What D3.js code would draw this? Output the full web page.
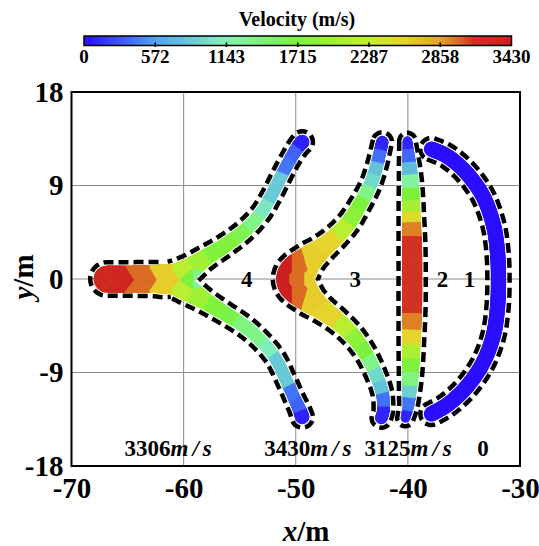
<!DOCTYPE html>
<html>
<head>
<meta charset="utf-8">
<script src="https://cdn.jsdelivr.net/npm/d3@7"></script>
<style>
  html, body { margin: 0; padding: 0; background: #fff; }
  svg { display: block; }
  text { font-family: "Liberation Serif", "Times New Roman", serif; font-weight: bold; fill: #000; }
</style>
</head>
<body>
<svg id="chart" width="539" height="546"></svg>
<script>
// ---- axes and colour bar ----
const xTicks = [-70, -60, -50, -40, -30];
const yTicks = [18, 9, 0, -9, -18];
const xGrid = [-60, -50, -40];
const yGrid = [9, 0, -9];
const velocityTicks = [0, 572, 1143, 1715, 2287, 2858, 3430];
const colorStops  = [0, 572, 1143, 1715, 2287, 2570, 2858, 3000, 3125, 3430];
const colorValues = ["#2a0cff", "#4fa2f5", "#82f5b4", "#7cf23c", "#c4ee2e",
                     "#e8d22c", "#e2a42a", "#dc6c24", "#d23222", "#cc1f1f"];

// ---- fragment 1: outer arc (centre line x, y and half width in metres) ----
const f1X = [-37.90, -36.38, -34.69, -33.26, -32.37, -32.01, -31.92, -32.01, -32.37, -33.26, -34.69, -36.38, -37.90];
const f1Y = [12.51, 11.74, 10.11, 7.89, 5.20, 2.60, -0.10, -2.79, -5.39, -7.99, -10.30, -12.03, -12.99];
const f1W = [0.68, 0.68, 0.68, 0.68, 0.68, 0.68, 0.68, 0.68, 0.68, 0.68, 0.68, 0.68, 0.68];
const f1SX = [-37.90, -31.92, -37.90];
const f1SY = [12.50, 0.00, -13.00];
const f1SV = [0, 0, 0];

// ---- fragment 2: thin lens near x = -40 ----
const f2X = [-40.04, -39.96, -39.87, -39.78, -39.73, -39.69, -39.64, -39.62, -39.62, -39.62, -39.64, -39.69, -39.73, -39.78, -39.87, -39.96, -40.22];
const f2Y = [13.28, 12.22, 10.97, 9.53, 7.89, 5.97, 3.75, 1.64, 0, -1.64, -3.75, -5.97, -7.89, -9.53, -10.97, -12.22, -13.38];
const f2W = [0.42, 0.51, 0.62, 0.71, 0.78, 0.83, 0.88, 0.90, 0.90, 0.90, 0.88, 0.83, 0.78, 0.71, 0.62, 0.51, 0.42];
const f2SX = [-40.04, -39.96, -39.87, -39.78, -39.73, -39.69, -39.69, -39.64, -39.64, -39.62, -39.62, -39.64, -39.69, -39.73, -39.73, -39.78, -39.87, -39.96, -40.22];
const f2SY = [13.09, 11.84, 10.59, 9.43, 8.09, 6.93, 5.97, 4.91, 3.27, 0, -2.50, -4.14, -5.68, -7.03, -8.28, -9.72, -10.88, -12.03, -13.38];
const f2SV = [100, 350, 750, 1250, 1700, 2050, 2500, 2950, 3125, 3125, 3125, 2950, 2550, 2100, 1750, 1400, 900, 400, 100];

// ---- fragment 3: chevron, top end -> nose -> bottom end ----
const f3X = [-42.28, -42.46, -42.81, -43.35, -44.24, -45.31, -46.56, -47.81, -49.06, -50.04, -49.06, -47.81, -46.38, -44.96, -43.79, -42.90, -42.28, -42.19, -42.37];
const f3Y = [13.19, 12.32, 10.78, 9.05, 7.22, 5.39, 3.95, 2.79, 1.64, 0, -1.64, -2.79, -3.95, -5.39, -7.12, -9.05, -10.97, -12.61, -13.38];
const f3W = [0.55, 0.56, 0.58, 0.60, 0.64, 0.72, 0.80, 0.95, 1.28, 1.70, 1.28, 0.95, 0.80, 0.72, 0.64, 0.60, 0.58, 0.56, 0.55];
const f3SX = [-51.29, -50.94, -50.94, -49.78, -49.69, -49.69, -48.62, -48.44, -48.44,
              -46.92, -45.76, -44.87, -44.15, -43.62, -43.17, -42.81, -42.54, -42.28,
              -46.92, -45.76, -44.78, -44.06, -43.44, -42.90, -42.54, -42.28, -42.28];
const f3SY = [0, 1.25, -1.25, 0, 1.25, -1.25, 0, 1.64, -1.64,
              3.56, 4.81, 6.06, 7.31, 8.37, 9.53, 10.68, 11.84, 13.09,
              -3.56, -4.72, -5.87, -7.03, -8.18, -9.34, -10.49, -11.65, -12.99];
const f3SV = [3430, 3430, 3430, 3000, 3000, 3000, 2600, 2600, 2600,
              2550, 2200, 1850, 1700, 1350, 950, 800, 380, 100,
              2550, 2200, 1850, 1700, 1350, 950, 800, 380, 100];

// ---- fragment 4: Y shape, tail with upper branch (a) and lower branch (b) ----
const f4aX = [-66.83, -64.78, -62.81, -61.21, -59.60, -58.08, -56.38, -54.60, -53.17, -52.19, -51.38, -50.58, -49.87, -49.42];
const f4aY = [0, 0, 0, 0, 0.87, 2.02, 3.18, 4.62, 6.26, 7.99, 9.72, 11.36, 12.61, 13.19];
const f4aW = [1.19, 1.19, 1.21, 1.25, 1.00, 0.76, 0.66, 0.61, 0.57, 0.56, 0.56, 0.56, 0.60, 0.64];
const f4bX = [-66.83, -64.78, -62.81, -61.21, -59.60, -58.08, -56.38, -54.60, -53.08, -51.83, -50.94, -50.22, -49.69, -49.42];
const f4bY = [0, 0, 0, 0, -1.06, -2.12, -3.27, -4.52, -5.97, -7.60, -9.53, -11.26, -12.51, -13.28];
const f4bW = [1.19, 1.19, 1.21, 1.25, 1.00, 0.76, 0.66, 0.61, 0.57, 0.56, 0.56, 0.56, 0.60, 0.64];
const f4SX = [-67.46, -66.38, -66.38, -65.31, -64.06, -64.06, -63.35, -61.92, -61.92, -61.21, -60.13, -60.13, -59.42, -58.79,
              -58.53, -57.28, -56.03, -54.78, -53.71, -52.81, -52.10, -51.47, -50.94, -50.22, -49.51,
              -58.53, -57.28, -56.03, -54.78, -53.62, -52.63, -51.83, -51.12, -50.49, -49.87, -49.51];
const f4SY = [0, 1.06, -1.25, 0, 0.87, -1.06, 0, 0.87, -1.06, 0, 0.87, -1.06, 0, 0,
              1.73, 2.50, 3.37, 4.33, 5.49, 6.83, 8.28, 9.53, 10.97, 12.22, 13.19,
              -1.83, -2.60, -3.56, -4.52, -5.58, -6.83, -8.09, -9.72, -11.07, -12.22, -13.28];
const f4SV = [3306, 3306, 3306, 3306, 3000, 3000, 3000, 2600, 2600, 2600, 2200, 2200, 1700, 1300,
              2000, 1750, 1750, 1600, 1350, 1050, 850, 850, 400, 330, 80,
              2000, 1750, 1650, 1400, 1350, 1100, 850, 850, 400, 330, 80];

// fragment numbers and where their tags / speed notes sit (metres)
const fragmentTags = ["4", "3", "2", "1"];
const tagX = [-54.36, -44.69, -36.92, -34.51];
const speedNoteX = [-61.20, -48.75, -39.80, -33.30];
const speedNoteY = -17.0;

const fragments = [
  { tag: "4", limbs: [{ x: f4aX, y: f4aY, w: f4aW }, { x: f4bX, y: f4bY, w: f4bW }], samples: { x: f4SX, y: f4SY, v: f4SV } },
  { tag: "3", limbs: [{ x: f3X, y: f3Y, w: f3W }], samples: { x: f3SX, y: f3SY, v: f3SV } },
  { tag: "2", limbs: [{ x: f2X, y: f2Y, w: f2W }], samples: { x: f2SX, y: f2SY, v: f2SV } },
  { tag: "1", limbs: [{ x: f1X, y: f1Y, w: f1W }], samples: { x: f1SX, y: f1SY, v: f1SV } }
];

// ---- scales ----
const svg = d3.select("#chart");
const x = d3.scaleLinear().domain([-70, -30]).range([71.5, 520]);
const y = d3.scaleLinear().domain([-18, 18]).range([466, 92]);
const color = d3.scaleLinear().domain(colorStops).range(colorValues).interpolate(d3.interpolateRgb).clamp(true);
const widthPx = w => Math.abs(x(w) - x(0));

const GAP = 3.5;         // body edge to outline centre
const OUTLINE_W = 4.5;

// ---- grid ----
const grid = svg.append("g");
grid.selectAll("line.gx").data(xGrid).join("line")
  .attr("x1", d => x(d)).attr("x2", d => x(d)).attr("y1", y(18)).attr("y2", y(-18))
  .attr("stroke", "#8a8a8a").attr("stroke-width", 1);
grid.selectAll("line.gy").data(yGrid).join("line")
  .attr("y1", d => y(d)).attr("y2", d => y(d)).attr("x1", x(-70)).attr("x2", x(-30))
  .attr("stroke", "#8a8a8a").attr("stroke-width", 1);

// ---- geometry helpers ----
function catmull(a, b, c, d, t) {
  const t2 = t * t, t3 = t2 * t;
  return 0.5 * (2 * b + (-a + c) * t + (2 * a - 5 * b + 4 * c - d) * t2 + (-a + 3 * b - 3 * c + d) * t3);
}
function densify(ctrl, steps) {
  const n = ctrl.length, out = [];
  for (let i = 0; i < n - 1; i++) {
    const p0 = ctrl[Math.max(i - 1, 0)], p1 = ctrl[i], p2 = ctrl[i + 1], p3 = ctrl[Math.min(i + 2, n - 1)];
    for (let s = 0; s < steps; s++) {
      const t = s / steps;
      out.push({
        x: catmull(p0.x, p1.x, p2.x, p3.x, t),
        y: catmull(p0.y, p1.y, p2.y, p3.y, t),
        r: Math.max(0.8, catmull(p0.r, p1.r, p2.r, p3.r, t))
      });
    }
  }
  out.push(Object.assign({}, ctrl[n - 1]));
  return out;
}
const wrap = a => { while (a <= -Math.PI) a += 2 * Math.PI; while (a > Math.PI) a -= 2 * Math.PI; return a; };
function arcPoints(c, rad, p0, p1, dir) {
  const a0 = Math.atan2(p0[1] - c.y, p0[0] - c.x);
  const a1 = Math.atan2(p1[1] - c.y, p1[0] - c.x);
  const am = Math.atan2(dir[1], dir[0]);
  let d = wrap(a1 - a0);
  const m = wrap(am - a0);
  if (d > 0 && (m < 0 || m > d)) d -= 2 * Math.PI;
  else if (d < 0 && (m > 0 || m < d)) d += 2 * Math.PI;
  const steps = 20, out = [];
  for (let i = 1; i < steps; i++) {
    const a = a0 + d * i / steps;
    out.push([c.x + rad * Math.cos(a), c.y + rad * Math.sin(a)]);
  }
  return out;
}
// closed envelope of the discs swept along the centre line, radius r + g
function envelope(dense, g) {
  const n = dense.length, L = [], R = [], T = [];
  for (let i = 0; i < n; i++) {
    const a = dense[Math.max(i - 1, 0)], b = dense[Math.min(i + 1, n - 1)];
    let tx = b.x - a.x, ty = b.y - a.y;
    const len = Math.hypot(tx, ty) || 1;
    tx /= len; ty /= len;
    let dr = (b.r - a.r) / len;
    dr = Math.max(-0.9, Math.min(0.9, dr));
    const k = Math.sqrt(1 - dr * dr), nx = -ty, ny = tx;
    const c = dense[i], rr = c.r + g;
    L.push([c.x + rr * (-dr * tx + k * nx), c.y + rr * (-dr * ty + k * ny)]);
    R.push([c.x + rr * (-dr * tx - k * nx), c.y + rr * (-dr * ty - k * ny)]);
    T.push([tx, ty]);
  }
  const loop = L.slice();
  const e = dense[n - 1], s = dense[0];
  loop.push(...arcPoints(e, e.r + g, L[n - 1], R[n - 1], T[n - 1]));
  for (let i = n - 1; i >= 0; i--) loop.push(R[i]);
  loop.push(...arcPoints(s, s.r + g, R[0], L[0], [-T[0][0], -T[0][1]]));
  return loop;
}
// is point q covered by the swept region of a limb (radius r + g, with tolerance)?
function covered(q, dense, g, tol) {
  for (let i = 0; i < dense.length - 1; i++) {
    const a = dense[i], b = dense[i + 1];
    const vx = b.x - a.x, vy = b.y - a.y;
    const l2 = vx * vx + vy * vy || 1e-9;
    let u = ((q[0] - a.x) * vx + (q[1] - a.y) * vy) / l2;
    u = Math.max(0, Math.min(1, u));
    const px = a.x + u * vx, py = a.y + u * vy;
    const rr = a.r + (b.r - a.r) * u + g;
    if (Math.hypot(q[0] - px, q[1] - py) < rr + tol) return true;
  }
  return false;
}
function splitRuns(loop, hidden) {
  const n = loop.length, start = hidden.indexOf(true);
  if (start < 0) return [{ pts: loop, closed: true }];
  const res = [];
  let cur = [];
  for (let k = 1; k <= n; k++) {
    const i = (start + k) % n;
    if (hidden[i]) { if (cur.length > 1) res.push({ pts: cur, closed: false }); cur = []; }
    else cur.push(loop[i]);
  }
  if (cur.length > 1) res.push({ pts: cur, closed: false });
  return res;
}

// ---- fragments ----
const defs = svg.append("defs");
const bounds = [x(-71), y(19), x(-29), y(-19)];
const lineGen = d3.line();
const layer = svg.append("g");

fragments.forEach((f, fi) => {
  const dense = f.limbs.map(l => densify(
    l.x.map((d, i) => ({ x: x(d), y: y(l.y[i]), r: widthPx(l.w[i]) })), 16));

  // body mask: union of round-capped strokes along each centre line
  const maskId = "body-" + fi;
  const mask = defs.append("mask").attr("id", maskId)
    .attr("maskUnits", "userSpaceOnUse").attr("x", 0).attr("y", 0).attr("width", 539).attr("height", 546);
  dense.forEach(pts => {
    for (let i = 0; i < pts.length - 1; i++) {
      mask.append("line")
        .attr("x1", pts[i].x).attr("y1", pts[i].y).attr("x2", pts[i + 1].x).attr("y2", pts[i + 1].y)
        .attr("stroke", "#fff").attr("stroke-linecap", "round")
        .attr("stroke-width", pts[i].r + pts[i + 1].r);
    }
  });

  // velocity field: nearest-sample cells, coloured through the colour scale
  const sites = f.samples.x.map((d, i) => [x(d), y(f.samples.y[i])]);
  const vor = d3.Delaunay.from(sites).voronoi(bounds);
  layer.append("g").attr("mask", `url(#${maskId})`)
    .selectAll("path").data(f.samples.v).join("path")
    .attr("d", (d, i) => vor.renderCell(i))
    .attr("fill", d => color(d)).attr("stroke", d => color(d)).attr("stroke-width", 0.8);

  // dashed outline of the union of all limbs
  dense.forEach((pts, k) => {
    const loop = envelope(pts, GAP);
    const hidden = loop.map(q => dense.some((other, j) =>
      covered(q, other, GAP, j < k ? 1.5 : -1.0)));
    splitRuns(loop, hidden).forEach(run => {
      layer.append("path")
        .attr("d", lineGen(run.pts) + (run.closed ? "Z" : ""))
        .attr("fill", "none").attr("stroke", "#000")
        .attr("stroke-width", OUTLINE_W).attr("stroke-dasharray", "10 5");
    });
  });
});

// ---- fragment tags and peak speeds ----
svg.append("g").selectAll("text").data(fragmentTags).join("text")
  .attr("x", (d, i) => x(tagX[i])).attr("y", y(0)).attr("dy", "0.35em")
  .attr("text-anchor", "middle").style("font-size", "23px").text(d => d);

const notes = svg.append("g").selectAll("text").data(fragments).join("text")
  .attr("x", (d, i) => x(speedNoteX[i])).attr("y", y(speedNoteY))
  .attr("text-anchor", "middle").style("font-size", "23px");
notes.append("tspan").text(d => d3.max(d.samples.v));
notes.filter(d => d3.max(d.samples.v) > 0).append("tspan")
  .style("font-style", "italic").style("letter-spacing", "4px").text("m/s");

// ---- frame and axes ----
svg.append("rect")
  .attr("x", x(-70)).attr("y", y(18)).attr("width", x(-30) - x(-70)).attr("height", y(-18) - y(18))
  .attr("fill", "none").attr("stroke", "#000").attr("stroke-width", 2);

const xAxis = svg.append("g").attr("transform", `translate(0,${y(-18)})`)
  .call(d3.axisBottom(x).tickValues(xTicks).tickFormat(d => String(d)).tickSize(0).tickPadding(11));
const yAxis = svg.append("g").attr("transform", `translate(${x(-70)},0)`)
  .call(d3.axisLeft(y).tickValues(yTicks).tickFormat(d => String(d)).tickSize(0).tickPadding(8));
[xAxis, yAxis].forEach(a => {
  a.select(".domain").remove();
  a.selectAll("text").attr("fill", "#000")
    .style("font-family", '"Liberation Serif", serif').style("font-weight", "bold").style("font-size", "29px");
});

const xTitle = svg.append("text").attr("x", 306).attr("y", 541).attr("text-anchor", "middle").style("font-size", "29px");
xTitle.append("tspan").style("font-style", "italic").text("x");
xTitle.append("tspan").text("/m");
const yTitle = svg.append("text").attr("transform", "translate(33,277) rotate(-90)")
  .attr("text-anchor", "middle").style("font-size", "29px");
yTitle.append("tspan").style("font-style", "italic").text("y");
yTitle.append("tspan").text("/m");

// ---- colour bar ----
const cb = d3.scaleLinear().domain([0, 3430]).range([84, 511.5]);
const grad = defs.append("linearGradient").attr("id", "velocity-gradient")
  .attr("x1", "0%").attr("x2", "100%").attr("y1", "0%").attr("y2", "0%");
grad.selectAll("stop").data(colorStops).join("stop")
  .attr("offset", d => (d / 3430 * 100) + "%").attr("stop-color", (d, i) => colorValues[i]);
const barTop = 36, barH = 9.5;
svg.append("rect").attr("x", cb(0)).attr("y", barTop).attr("width", cb(3430) - cb(0)).attr("height", barH)
  .attr("fill", "url(#velocity-gradient)").attr("stroke", "#000").attr("stroke-width", 1.5);
svg.append("g").selectAll("line").data(velocityTicks.slice(1, -1)).join("line")
  .attr("x1", d => cb(d)).attr("x2", d => cb(d)).attr("y1", barTop + barH - 3).attr("y2", barTop + barH + 1.5)
  .attr("stroke", "#000").attr("stroke-width", 1.6);
svg.append("g").selectAll("text").data(velocityTicks).join("text")
  .attr("x", d => cb(d)).attr("y", 63).attr("text-anchor", "middle").style("font-size", "19px")
  .text(d => String(d));
svg.append("text").attr("x", 297).attr("y", 26).attr("text-anchor", "middle").style("font-size", "20px")
  .text("Velocity (m/s)");
</script>
</body>
</html>
